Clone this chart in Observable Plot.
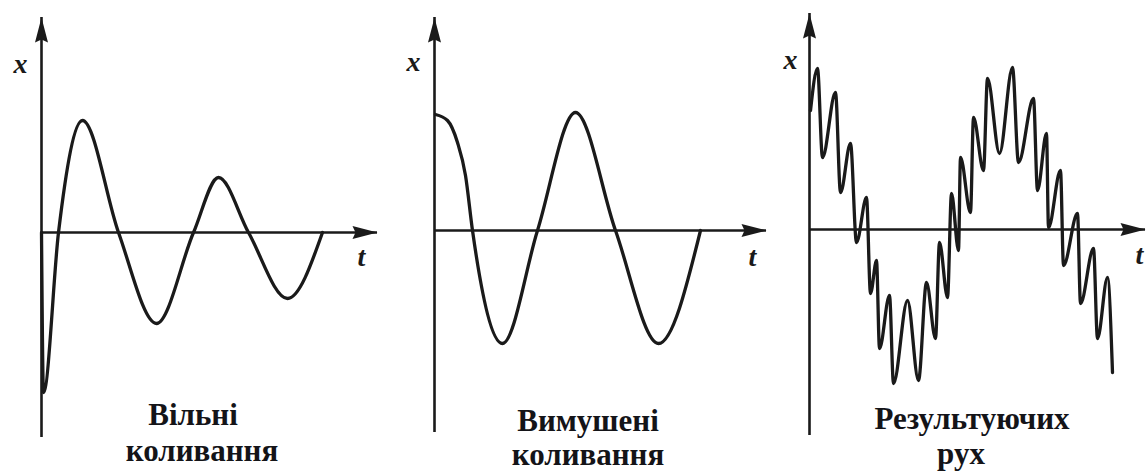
<!DOCTYPE html>
<html>
<head>
<meta charset="utf-8">
<script src="https://cdn.jsdelivr.net/npm/d3@7"></script>
<script src="https://cdn.jsdelivr.net/npm/@observablehq/plot@0.6"></script>
<style>
  html, body { margin: 0; padding: 0; background: #fff; }
  #wrap { position: relative; width: 1146px; height: 471px; overflow: hidden; background: #fff; }
  #wrap svg { position: absolute; left: 0; top: 0; }
  .cap { position: absolute; width: 260px; text-align: center; white-space: nowrap;
         font-family: "Liberation Serif", "DejaVu Serif", serif; font-weight: bold; font-size: 31px;
         line-height: 31px; color: #141418; }
</style>
</head>
<body>
<div id="wrap"></div>
<script>
// ---- data (t in arbitrary time units, x in arbitrary displacement units) ----
// Panel 1: free (damped) oscillations
const freeT = [0, 0.2, 1.7, 4.1, 7.7, 11.5, 15.2, 17.7, 20.7, 24.6, 28.1];
const freeX = [0, -1.60, 0, 1.12, 0, -0.91, 0, 0.55, 0, -0.66, 0];

// Panel 2: forced oscillations
const forcedT = [0.1, 1.3, 2.3, 3.1, 3.8, 6.8, 10.3, 14.1, 18.1, 22.4, 26.6];
const forcedX = [1.16, 1.10, 0.88, 0.55, 0, -1.13, 0, 1.18, 0, -1.13, 0];

// Panel 3: resulting motion
const resultT = [0.1, 0.8, 1.3, 2.6, 3.1, 4.1, 4.7, 5.7, 6.1, 6.7, 7.0, 8.0, 8.4, 9.8, 10.9, 11.7,
  12.6, 13.0, 13.8, 14.2, 14.9, 15.1, 16.1, 16.4, 17.4, 17.8, 19.0, 20.3, 20.9, 22.4, 22.8, 23.7,
  23.9, 25.1, 25.4, 26.8, 27.1, 28.4, 28.8, 29.8, 30.3];
const resultX = [1.19, 1.61, 0.72, 1.37, 0.37, 0.86, -0.13, 0.32, -0.64, -0.31, -1.19, -0.66, -1.54, -0.71, -1.51, -0.53,
  -1.09, -0.13, -0.68, 0.36, -0.21, 0.72, 0.17, 1.12, 0.59, 1.51, 0.76, 1.62, 0.67, 1.31, 0.39, 0.96,
  0.02, 0.59, -0.36, 0.16, -0.74, -0.19, -1.09, -0.48, -1.43];

// axis extents per panel: [t end, x top, x bottom]
const freeAxis = [33.6, 2.15, -2.05];
const forcedAxis = [33.2, 2.13, -2.02];
const resultAxis = [33.6, 2.16, -2.06];

// text
const axisNames = ["x", "t"];
const freeCaption = ["Вільні", "коливання"];
const forcedCaption = ["Вимушені", "коливання"];
const resultCaption = ["Результуючих", "рух"];

// ---- layout (pixels) ----
const layouts = [
  {ox: 41, oy: 232, xLab: [-21, 55], tLab: [-16, 33],
   caps: [[193, 399], [202, 435]]},
  {ox: 434, oy: 230, xLab: [-21, 53], tLab: [-14, 35],
   caps: [[588, 405], [588, 439]]},
  {ox: 809, oy: 229, xLab: [-19, 55], tLab: [-6, 34],
   caps: [[972, 403], [961, 438]]}
];
const pxPerT = 10, pxPerX = 100;
const ink = "#1a1a1a";

// arrowhead symbols (tip at the anchor point)
const L = 25, W = 6.5, N = 3;
const arrowRight = {draw(c) { c.moveTo(0, 0); c.lineTo(-L, -W); c.lineTo(-L + N, 0); c.lineTo(-L, W); c.closePath(); }};
const arrowUp = {draw(c) { c.moveTo(0, 0); c.lineTo(-W, L); c.lineTo(0, L - N); c.lineTo(W, L); c.closePath(); }};

const panels = [
  {t: freeT, x: freeX, axis: freeAxis, caption: freeCaption},
  {t: forcedT, x: forcedX, axis: forcedAxis, caption: forcedCaption},
  {t: resultT, x: resultX, axis: resultAxis, caption: resultCaption}
];

const wrap = document.getElementById("wrap");

panels.forEach((p, i) => {
  const lay = layouts[i];
  const pts = p.t.map((t, k) => ({t, x: p.x[k]}));
  const [tEnd, xTop, xBot] = p.axis;
  const chart = Plot.plot({
    width: 1146,
    height: 471,
    margin: 0,
    style: {background: "transparent", overflow: "visible"},
    x: {domain: [0, 1], range: [lay.ox, lay.ox + pxPerT], axis: null},
    y: {domain: [0, 1], range: [lay.oy, lay.oy - pxPerX], axis: null},
    marks: [
      Plot.ruleY([0], {x1: 0, x2: tEnd, stroke: ink, strokeWidth: 2.6}),
      Plot.ruleX([0], {y1: xBot, y2: xTop, stroke: ink, strokeWidth: 2.6}),
      Plot.dot([{t: tEnd, x: 0}], {x: "t", y: "x", symbol: arrowRight, fill: ink, stroke: "none"}),
      Plot.dot([{t: 0, x: xTop}], {x: "t", y: "x", symbol: arrowUp, fill: ink, stroke: "none"}),
      Plot.line(pts, {x: "t", y: "x", curve: "monotone-x", stroke: ink, strokeWidth: 3.3,
        strokeLinejoin: "round", strokeLinecap: "round"}),
      Plot.text([{t: 0, x: xTop}], {x: "t", y: "x", text: () => axisNames[0], dx: lay.xLab[0], dy: lay.xLab[1],
        lineAnchor: "bottom", textAnchor: "middle", fontSize: 28, fontStyle: "italic", fontWeight: "bold",
        fontFamily: "Liberation Serif, DejaVu Serif, serif", fill: ink}),
      Plot.text([{t: tEnd, x: 0}], {x: "t", y: "x", text: () => axisNames[1], dx: lay.tLab[0], dy: lay.tLab[1],
        lineAnchor: "bottom", textAnchor: "middle", fontSize: 28, fontStyle: "italic", fontWeight: "bold",
        fontFamily: "Liberation Serif, DejaVu Serif, serif", fill: ink})
    ]
  });
  wrap.appendChild(chart);
  p.caption.forEach((line, k) => {
    const d = document.createElement("div");
    d.className = "cap";
    d.textContent = line;
    d.style.left = (lay.caps[k][0] - 130) + "px";
    d.style.top = lay.caps[k][1] + "px";
    wrap.appendChild(d);
  });
});
</script>
</body>
</html>
